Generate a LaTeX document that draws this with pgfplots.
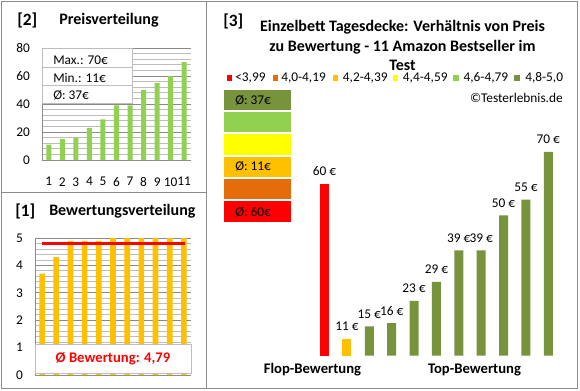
\documentclass[border=0pt]{standalone}
\usepackage{pgfplots}
\pgfplotsset{compat=1.18}
\usepackage{fontspec}
\setmainfont{Carlito}
\definecolor{cRed}{HTML}{FF0000}
\definecolor{cDkOrange}{HTML}{E46C0A}
\definecolor{cGold}{HTML}{FFC000}
\definecolor{cYellow}{HTML}{FFFF00}
\definecolor{cLtGreen}{HTML}{92D050}
\definecolor{cDkGreen}{HTML}{77933C}
\definecolor{cFrame}{HTML}{8C8C8C}
\definecolor{cGridMaj}{HTML}{8A8A8A}
\definecolor{cGridMin}{HTML}{BDBDBD}
\pgfplotsset{
  /pgf/number format/assume math mode=true,
  tick label style={font=\fontsize{10}{12}\selectfont, text=black},
  every outer x axis line/.append style={-},
  every outer y axis line/.append style={-},
}
\begin{document}
\begin{tikzpicture}[x=0.75pt,y=0.75pt]
\useasboundingbox (0,0) rectangle (580,390);
\fill[white] (0,0) rectangle (580,390);

% ---------- [2] Preisverteilung ----------
\begin{axis}[
  at={(31.5pt,172.5pt)}, anchor=south west,
  scale only axis, width=111.75pt, height=84pt,
  xmin=0.5, xmax=11.5, ymin=0, ymax=80,
  ybar, bar width=0.37, bar shift=0pt,
  xtick={1,...,11}, ytick={0,20,40,60,80},
  minor y tick num=4,
  ymajorgrids, yminorgrids,
  major grid style={cGridMaj, line width=0.6pt},
  minor grid style={cGridMin, line width=0.6pt},
  major tick length=0pt, minor tick length=0pt,
  axis x line*=bottom, axis y line*=left,
  axis line style={cFrame, line width=0.6pt, -},
  xticklabel style={yshift=-9.5pt},
  yticklabel style={xshift=-5.5pt},
]
\addplot[fill=cLtGreen, draw=none] coordinates {
  (1,11) (2,15) (3,16) (4,23) (5,29) (6,39) (7,39) (8,50) (9,55) (10,60) (11,70)};
\end{axis}
\fill[white] (42,287) rectangle (132,342);
\draw[cGridMin, line width=0.6pt] (42,287) rectangle (132,342);
\draw[cGridMin, line width=0.6pt] (42,323) -- (132,323) (42,305) -- (132,305);
\node[anchor=west, inner sep=0pt, font=\fontsize{10}{12}\selectfont] at (53,330) {Max.: 70€};
\node[anchor=west, inner sep=0pt, font=\fontsize{10}{12}\selectfont] at (53,312) {Min.: 11€};
\node[anchor=west, inner sep=0pt, font=\fontsize{10}{12}\selectfont] at (53,295) {Ø: 37€};
\node[anchor=west, inner sep=0pt, font=\bfseries\fontsize{13}{15}\selectfont] at (17,370) {[2]};
\node[anchor=west, inner sep=0pt, font=\bfseries\fontsize{12}{14}\selectfont] at (59,370) {Preisverteilung};

% ---------- [1] Bewertungsverteilung ----------
\begin{axis}[
  at={(26.25pt,11.25pt)}, anchor=south west,
  scale only axis, width=117pt, height=102.75pt,
  xmin=0.5, xmax=11.5, ymin=0, ymax=5,
  ybar, bar width=0.4, bar shift=0pt,
  xtick=\empty, ytick={0,1,2,3,4,5},
  minor y tick num=4,
  ymajorgrids, yminorgrids,
  major grid style={cGridMaj, line width=0.6pt},
  minor grid style={cGridMin, line width=0.6pt},
  major tick length=0pt, minor tick length=0pt,
  axis x line*=bottom, axis y line*=left,
  axis line style={cFrame, line width=0.6pt, -},
  yticklabel style={xshift=-5.5pt},
  clip=false,
]
\addplot[fill=cGold, draw=none] coordinates {
  (1,3.7) (2,4.3) (3,4.9) (4,4.9) (5,4.9) (6,5.0) (7,5.0) (8,5.0) (9,5.0) (10,5.0) (11,5.0)};
\addplot[sharp plot, cRed, line width=2pt, no markers] coordinates {(1,4.79) (11.1,4.79)};
\end{axis}
\fill[white] (35,17) rectangle (191,46);
\draw[cGridMin, line width=0.6pt] (35,17) rectangle (191,46);
\node[font=\bfseries\fontsize{11}{13}\selectfont, text=cRed] at (113,31) {Ø Bewertung: 4,79};
\node[anchor=west, inner sep=0pt, font=\bfseries\fontsize{13}{15}\selectfont] at (15,179) {[1]};
\node[anchor=west, inner sep=0pt, font=\bfseries\fontsize{12}{14}\selectfont] at (49,179) {Bewertungsverteilung};

% ---------- [3] main chart ----------
\begin{axis}[
  at={(226.6pt,25.7pt)}, anchor=south west,
  scale only axis, width=201.4pt, height=176.6pt,
  xmin=0, xmax=12, ymin=5.73, ymax=80,
  ybar, bar width=0.4, bar shift=0pt,
  hide axis,
  nodes near coords={\pgfmathprintnumber{\pgfplotspointmeta} €},
  every node near coord/.append style={font=\fontsize{10}{12}\selectfont, text=black, yshift=2.5pt},
]
\addplot[fill=cRed, draw=none] coordinates {(1,60)};
\addplot[fill=cGold, draw=none] coordinates {(2,11)};
\addplot[fill=cDkGreen, draw=none] coordinates {
  (3,15) (4,16) (5,23) (6,29) (7,39) (8,39) (9,50) (10,55) (11,70)};
\end{axis}

% stacked colour column
\begin{axis}[
  at={(167.25pt,125.625pt)}, anchor=south west,
  scale only axis, width=51.75pt, height=100.5pt,
  xmin=0.5, xmax=1.5, ymin=0, ymax=6,
  ybar stacked, bar width=51.75pt,
  hide axis, clip=false,
]
\addplot[fill=cRed, draw=white, line width=1.5pt] coordinates {(1,1)};
\addplot[fill=cDkOrange, draw=white, line width=1.5pt] coordinates {(1,1)};
\addplot[fill=cGold, draw=white, line width=1.5pt] coordinates {(1,1)};
\addplot[fill=cYellow, draw=white, line width=1.5pt] coordinates {(1,1)};
\addplot[fill=cLtGreen, draw=white, line width=1.5pt] coordinates {(1,1)};
\addplot[fill=cDkGreen, draw=white, line width=1.5pt] coordinates {(1,1)};
\end{axis}
\node[anchor=west, inner sep=0pt, font=\fontsize{10}{12}\selectfont] at (235,290) {Ø: 37€};
\node[anchor=west, inner sep=0pt, font=\fontsize{10}{12}\selectfont] at (235,223.5) {Ø: 11€};
\node[anchor=west, inner sep=0pt, font=\fontsize{10}{12}\selectfont] at (235,178) {Ø: 60€};

% titles and legend
\node[anchor=west, inner sep=0pt, font=\bfseries\fontsize{13}{15}\selectfont] at (223,369) {[3]};
\node[align=center, inner sep=0pt, font=\bfseries\fontsize{12}{14.6}\selectfont] at (402.5,344.5)
  {Einzelbett Tagesdecke: Verhältnis von Preis\\zu Bewertung - 11 Amazon Bestseller im\\Test};
\foreach \xs/\xt/\c/\t in {226.7/235/cRed/{<3,99}, 272.7/281/cDkOrange/{4,0-4,19}, 332.7/342.7/cGold/{4,2-4,39},
   392.7/402.7/cYellow/{4,4-4,59}, 453.3/463.3/cLtGreen/{4,6-4,79}, 514.3/525/cDkGreen/{4,8-5,0}} {
  \fill[\c] (\xs,308.8) rectangle ++(5.5,6.5);
  \node[anchor=west, inner sep=0pt, font=\fontsize{10}{12}\selectfont] at (\xt,312) {\t};
}
\node[anchor=east, inner sep=0pt, font=\fontsize{10}{12}\selectfont] at (563,292) {©Testerlebnis.de};
\node[font=\bfseries\fontsize{11}{13}\selectfont] at (312.5,20) {Flop-Bewertung};
\node[font=\bfseries\fontsize{11}{13}\selectfont] at (474.5,20) {Top-Bewertung};

% frame
\draw[cFrame, line width=0.75pt] (1.5,1.5) rectangle (577.5,388.5);
\draw[cFrame, line width=0.75pt] (206,1.5) -- (206,388.5);
\draw[cFrame, line width=0.75pt] (1.5,198) -- (206,198);
\end{tikzpicture}
\end{document}
